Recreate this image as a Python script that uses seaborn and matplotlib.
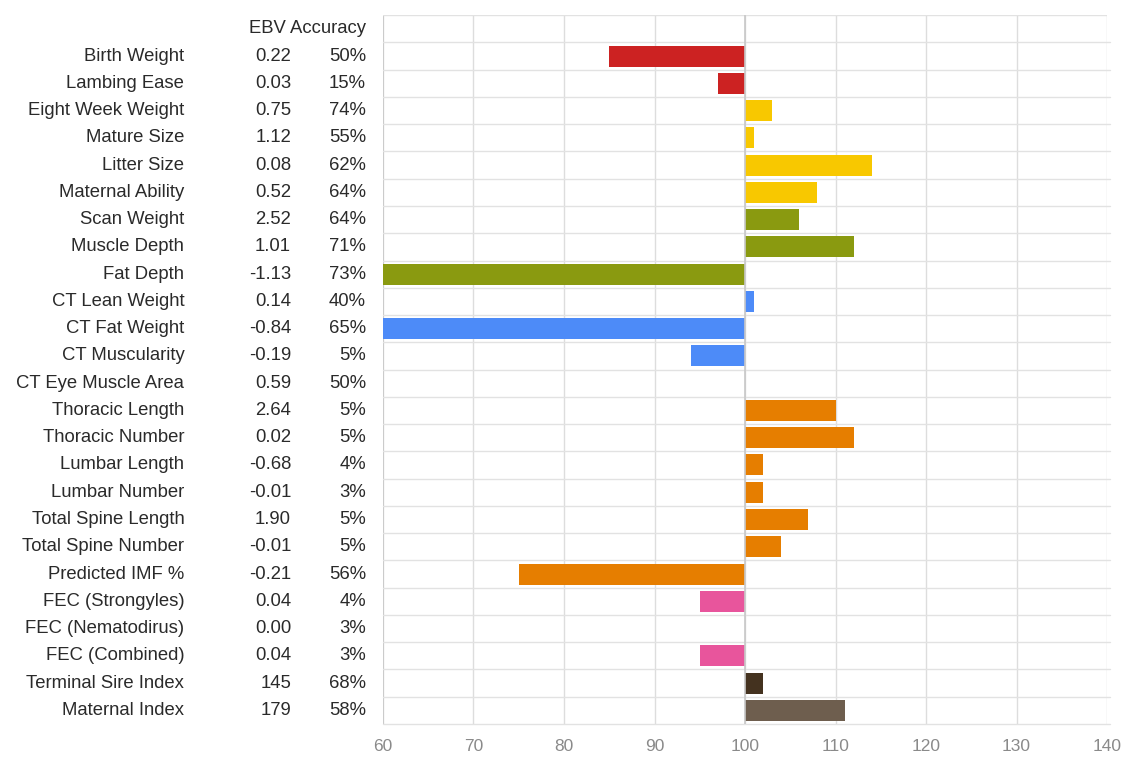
import matplotlib
matplotlib.use("Agg")
import matplotlib.pyplot as plt
import matplotlib.transforms as transforms
from matplotlib.ticker import FuncFormatter, FixedLocator
import pandas as pd
import seaborn as sns

traits = ["Birth Weight", "Lambing Ease", "Eight Week Weight", "Mature Size",
          "Litter Size", "Maternal Ability", "Scan Weight", "Muscle Depth",
          "Fat Depth", "CT Lean Weight", "CT Fat Weight", "CT Muscularity",
          "CT Eye Muscle Area", "Thoracic Length", "Thoracic Number",
          "Lumbar Length", "Lumbar Number", "Total Spine Length",
          "Total Spine Number", "Predicted IMF %", "FEC (Strongyles)",
          "FEC (Nematodirus)", "FEC (Combined)", "Terminal Sire Index",
          "Maternal Index"]
ebv = ["0.22", "0.03", "0.75", "1.12", "0.08", "0.52", "2.52", "1.01",
       "-1.13", "0.14", "-0.84", "-0.19", "0.59", "2.64", "0.02", "-0.68",
       "-0.01", "1.90", "-0.01", "-0.21", "0.04", "0.00", "0.04", "145", "179"]
accuracy = ["50%", "15%", "74%", "55%", "62%", "64%", "64%", "71%", "73%",
            "40%", "65%", "5%", "50%", "5%", "5%", "4%", "3%", "5%", "5%",
            "56%", "4%", "3%", "3%", "68%", "58%"]
# bar end positions on the 60-140 scale (baseline 100)
score = [85, 97, 103, 101, 114, 108, 106, 112, 60, 101, 60, 94, 100, 110, 112,
         102, 102, 107, 104, 75, 95, 100, 95, 102, 111]

red, yellow, olive, blue = "#CC2222", "#F8C800", "#8A9A10", "#4D8BF8"
orange, pink, dark, brown = "#E67E00", "#E8559C", "#44321F", "#6E5E4E"
colors = [red] * 2 + [yellow] * 4 + [olive] * 3 + [blue] * 4 + [orange] * 7 \
    + [pink] * 3 + [dark, brown]

baseline = 100
df = pd.DataFrame({"trait": traits, "score": score})
df["delta"] = df["score"] - baseline

sns.set_style("white")
plt.rcParams["font.family"] = ["Liberation Sans", "DejaVu Sans"]

fig = plt.figure(figsize=(11.24, 7.58), dpi=100)
ax = fig.add_axes([0.3407, 0.0449, 0.985 - 0.3407, 0.980 - 0.0449])

sns.barplot(data=df, y="trait", x="delta", hue="trait", palette=colors,
            order=traits, orient="h", legend=False, width=0.77,
            saturation=1, linewidth=0, ax=ax)

n = len(traits)
ax.set_xlim(-40, 40)
ax.set_ylim(n - 0.5, -1.5)
ax.set_xlabel("")
ax.set_ylabel("")
ax.set_yticks([])
ax.xaxis.set_major_locator(FixedLocator(range(-40, 41, 10)))
ax.xaxis.set_major_formatter(FuncFormatter(lambda v, p: f"{v + baseline:.0f}"))
ax.tick_params(axis="x", length=0, pad=11, labelsize=12.5, labelcolor="#8a8a8a")
for s in ax.spines.values():
    s.set_visible(False)

# grid: vertical value lines and row separators
for v in range(-40, 41, 10):
    ax.axvline(v, color="#dddddd", lw=1, zorder=0)
ax.axvline(-40, color="#c8c8c8", lw=1.2, zorder=0)
ax.axvline(0, color="#c8c8c8", lw=1.2, zorder=3)
for i in range(-1, n):
    ax.axhline(i + 0.5, color="#e2e2e2", lw=1, zorder=0, clip_on=False,
               xmax=1.004)
ax.axhline(-1.5, color="#e2e2e2", lw=1, zorder=0)

# table on the left
tr = transforms.blended_transform_factory(fig.transFigure, ax.transData)
fs = 13.3
tc = "#2a2a2a"
for i, (t, e, a) in enumerate(zip(traits, ebv, accuracy)):
    ax.text(0.164, i, t, transform=tr, ha="right", va="center",
            fontsize=fs, color=tc)
    ax.text(0.259, i, e, transform=tr, ha="right", va="center",
            fontsize=fs, color=tc)
    ax.text(0.3256, i, a, transform=tr, ha="right", va="center",
            fontsize=fs, color=tc)
ax.text(0.2215, -1, "EBV Accuracy", transform=tr, ha="left", va="center",
        fontsize=fs, color=tc)

fig.savefig("out.png", dpi=100)
